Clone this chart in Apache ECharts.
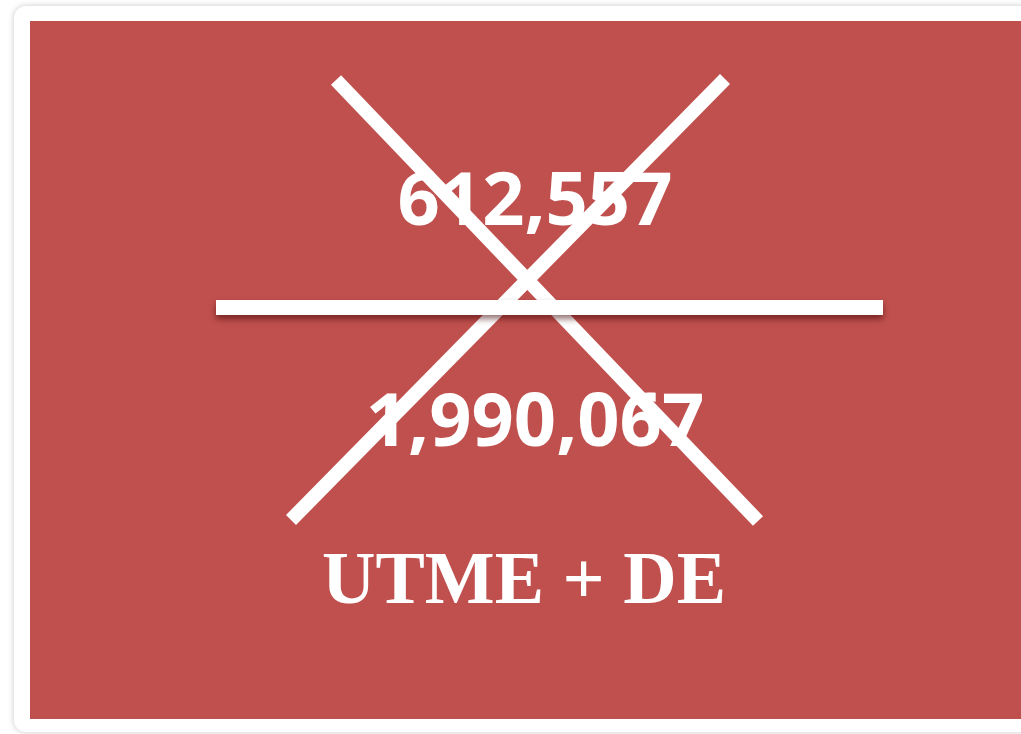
<!DOCTYPE html>
<html>
<head>
<meta charset="utf-8">
<script src="https://cdn.jsdelivr.net/npm/echarts@6/dist/echarts.min.js"></script>
<style>
  html, body { margin: 0; padding: 0; background: #fff; }
  #main { width: 1021px; height: 734px; }
</style>
</head>
<body>
<div id="main"></div>
<script>
// figures shown on the slide
var totals = [612557, 1990067];
var caption = 'UTME + DE';

var RED = '#C0504D';

function fmt(n) {
  return String(n).replace(/\B(?=(\d{3})+(?!\d))/g, ',');
}

var myChart = echarts.init(document.getElementById('main'));

var numStyle = {
  fill: '#fff',
  fontFamily: '"Open Sans", sans-serif',
  fontWeight: 'bold',
  fontSize: 74,
  textAlign: 'center',
  textVerticalAlign: 'middle'
};

var option = {
  backgroundColor: '#fff',
  animation: false,
  graphic: [
    {
      type: 'rect', z: 1,
      shape: { x: 14, y: 6, width: 1030, height: 726, r: 12 },
      style: { fill: '#fff', shadowColor: 'rgba(0,0,0,0.22)', shadowBlur: 6, shadowOffsetX: 0, shadowOffsetY: 0 }
    },
    {
      type: 'rect', z: 2,
      shape: { x: 30, y: 21, width: 1000, height: 698 },
      style: { fill: RED }
    },
    {
      type: 'text', z: 3,
      style: Object.assign({}, numStyle, { x: 535, y: 204, text: fmt(totals[0]) })
    },
    {
      type: 'text', z: 3,
      style: Object.assign({}, numStyle, { x: 535, y: 425, text: fmt(totals[1]) })
    },
    {
      type: 'text', z: 3,
      style: {
        x: 524, y: 584, text: caption, fill: '#fff',
        fontFamily: '"Liberation Serif", "Times New Roman", serif',
        fontWeight: 'bold', fontSize: 74,
        textAlign: 'center', textVerticalAlign: 'middle'
      }
    },
    // the cross over the numbers
    {
      type: 'line', z: 4,
      shape: { x1: 336, y1: 80, x2: 758, y2: 521 },
      style: { stroke: '#fff', lineWidth: 14, lineCap: 'butt' }
    },
    {
      type: 'line', z: 4,
      shape: { x1: 725, y1: 79, x2: 291, y2: 520 },
      style: { stroke: '#fff', lineWidth: 14, lineCap: 'butt' }
    },
    // divider
    {
      type: 'rect', z: 5,
      shape: { x: 216, y: 300, width: 667, height: 15 },
      style: { fill: '#fff', shadowColor: 'rgba(60,0,0,0.55)', shadowBlur: 6, shadowOffsetY: 4 }
    }
  ]
};

myChart.setOption(option);
</script>
</body>
</html>
